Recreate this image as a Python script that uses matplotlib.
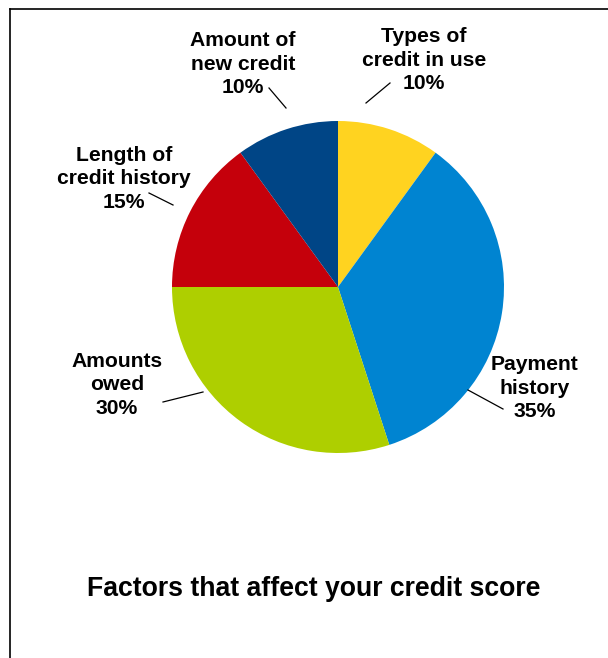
import matplotlib
matplotlib.use("Agg")
import matplotlib.pyplot as plt
from matplotlib.lines import Line2D

categories = ["Types of\ncredit in use", "Payment\nhistory", "Amounts\nowed",
              "Length of\ncredit history", "Amount of\nnew credit"]
values = [10, 35, 30, 15, 10]
colors = ["#FFD320", "#0084D1", "#AECF00", "#C5000B", "#004586"]
title = "Factors that affect your credit score"

W, H = 608, 658
fig = plt.figure(figsize=(W / 100, H / 100), dpi=100)
ax = fig.add_axes([0, 0, 1, 1])
ax.set_xlim(0, W)
ax.set_ylim(0, H)
ax.set_aspect("equal")
ax.axis("off")

cx, cy, r = 338, H - 287, 166
ax.pie(values, colors=colors, startangle=90, counterclock=False,
       center=(cx, cy), radius=r, frame=True,
       wedgeprops=dict(linewidth=0))
ax.set_xlim(0, W)
ax.set_ylim(0, H)
ax.axis("off")

font = dict(family="Liberation Sans", weight="bold", fontsize=15.2,
            ha="center", va="center", linespacing=1.27)

# label layout: (text center x, text center y in pixels from top)
label_pos = [(424, 60), (535, 388), (117, 385), (124, 179), (243, 64)]
leaders = [((366, 103), (390, 83)),
           ((468, 390), (503, 409)),
           ((203, 392), (163, 402)),
           ((173, 205), (149, 193)),
           ((286, 108), (269, 88))]

for cat, v, (lx, ly), (p0, p1) in zip(categories, values, label_pos, leaders):
    ax.text(lx, H - ly, f"{cat}\n{v}%", **font)
    ax.add_line(Line2D([p0[0], p1[0]], [H - p0[1], H - p1[1]],
                       color="black", linewidth=0.9))

ax.text(314, H - 589, title, family="Liberation Sans", weight="bold",
        fontsize=19.2, ha="center", va="center")

# frame
ax.add_line(Line2D([10, W], [H - 9, H - 9], color="black", linewidth=1.2))
ax.add_line(Line2D([10, 10], [H - 9, 0], color="black", linewidth=1.2))

fig.savefig("out.png", dpi=100, facecolor="white")
